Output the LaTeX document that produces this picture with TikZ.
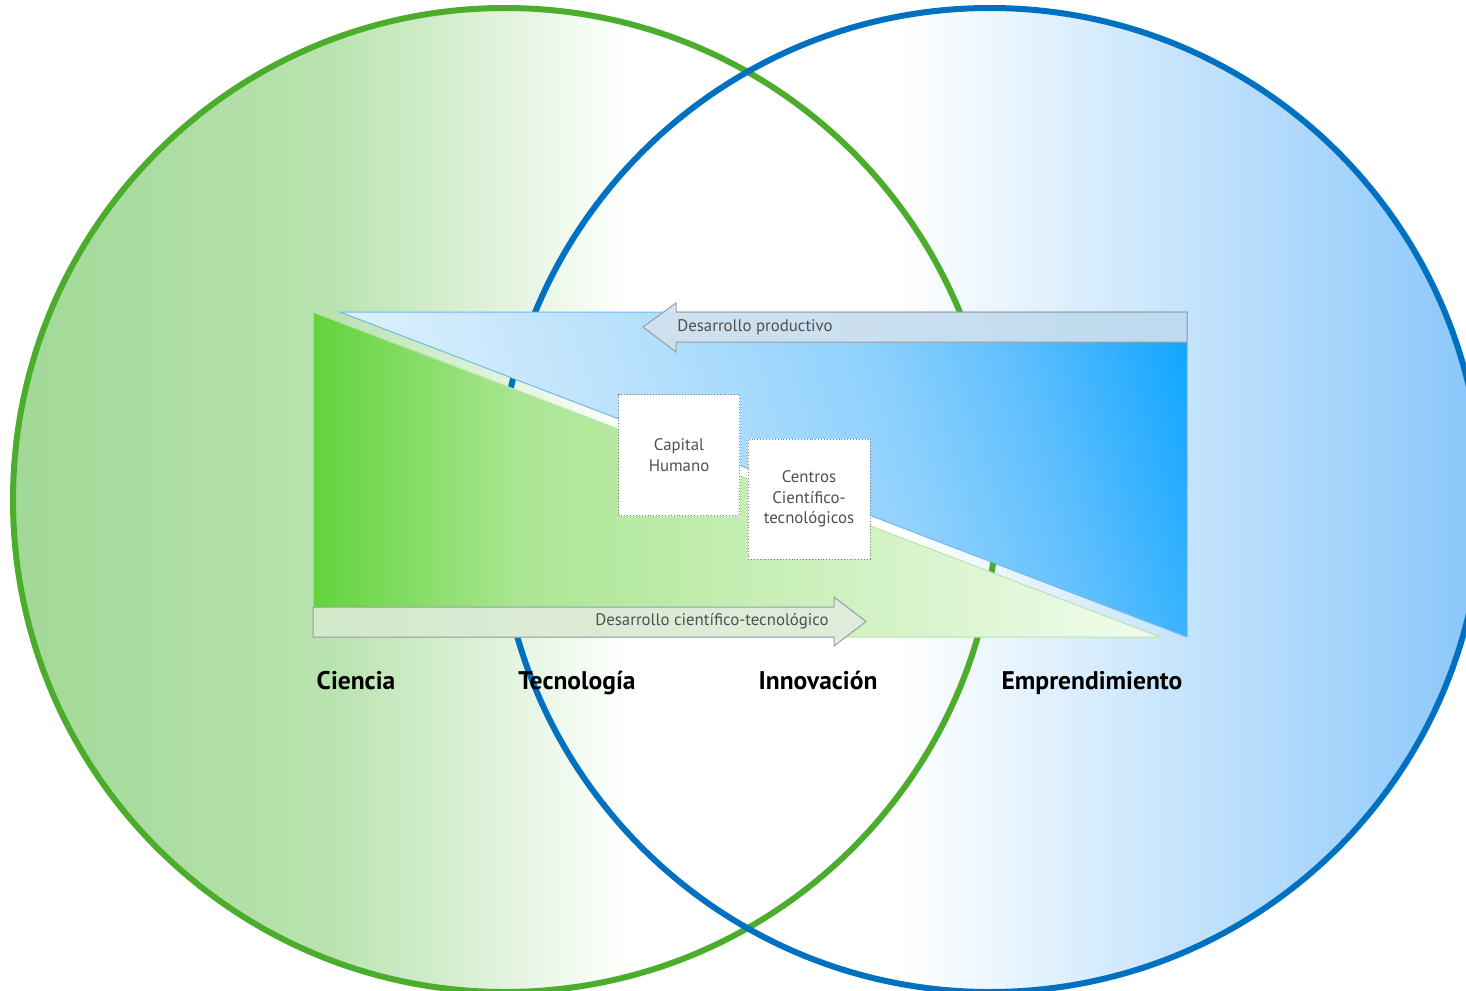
\documentclass[tikz,border=0pt]{standalone}
\usepackage{fontspec}
\setmainfont{PT Sans}
\usepackage{xcolor}
\usepackage{tikz}

\definecolor{ringgreen}{RGB}{76,172,44}
\definecolor{ringblue}{RGB}{0,113,193}
\definecolor{fillgreen}{RGB}{160,216,150}
\definecolor{fillgreenmid}{RGB}{185,227,175}
\definecolor{fillblue}{RGB}{140,200,250}
\definecolor{trigA}{RGB}{98,211,59}
\definecolor{trigB}{RGB}{171,230,147}
\definecolor{trigC}{RGB}{243,252,239}
\definecolor{trigline}{RGB}{184,228,168}
\definecolor{tribA}{RGB}{228,243,254}
\definecolor{tribB}{RGB}{185,225,252}
\definecolor{tribC}{RGB}{142,209,253}
\definecolor{tribD}{RGB}{92,190,254}
\definecolor{tribE}{RGB}{12,164,255}
\definecolor{tribline}{RGB}{114,185,234}
\definecolor{barblue}{RGB}{212,226,238}
\definecolor{bargreen}{RGB}{226,236,222}
\definecolor{bargray}{RGB}{150,158,165}
\definecolor{txtgray}{RGB}{80,80,80}

\begin{document}
\begin{tikzpicture}[x=1pt, y=-1pt,
    ring/.style={line width=6pt},
    stage/.style={anchor=base, font=\fontsize{25.5}{30}\selectfont\bfseries, text=black},
    flow/.style={font=\fontsize{16.8}{20}\selectfont, text=txtgray},
    flowbar/.style={draw=bargray, line width=1pt, fill opacity=0.88},
    actor/.style={draw=gray, dotted, line width=0.9pt, fill=white, align=center,
        inner sep=0pt, font=\fontsize{16.8}{20.5}\selectfont, text=txtgray}]
    \useasboundingbox (0,0) rectangle (1466,990);

    \def\rad{492pt}

    % circle fills
    \begin{scope}
        \clip (505,500) circle[radius=\rad];
        \shade[left color=fillgreen, right color=fillgreenmid] (0,0) rectangle (331,990);
        \shade[left color=fillgreenmid, right color=white] (330,0) rectangle (630,990);
    \end{scope}
    \begin{scope}
        \clip (990,500) circle[radius=\rad];
        \shade[left color=white, right color=fillblue] (900,0) rectangle (1466,990);
    \end{scope}

    \draw[ringgreen, ring] (505,500) circle[radius=\rad];
    \draw[ringblue, ring] (990,500) circle[radius=\rad];

    % green wedge
    \begin{scope}
        \clip (313,312) -- (1160,637) -- (313,637) -- cycle;
        \shade[left color=trigA, right color=trigB] (313,312) rectangle (521,637);
        \shade[left color=trigB, right color=trigC] (520,312) rectangle (1160,637);
    \end{scope}
    \draw[trigline, line width=1pt] (313,312) -- (1160,637) -- (313,637) -- cycle;

    % blue wedge, bands tilted 17 degrees
    \begin{scope}
        \clip (340,312) -- (1187,312) -- (1187,637) -- cycle;
        \begin{scope}[transform canvas={rotate around={17:(340,312)}}]
            \shade[left color=tribA, right color=tribB] (290,0) rectangle (601,1100);
            \shade[left color=tribB, right color=tribC] (600,0) rectangle (836,1100);
            \shade[left color=tribC, right color=tribD] (835,0) rectangle (981,1100);
            \shade[left color=tribD, right color=tribE] (980,0) rectangle (1150,1100);
            \fill[tribE] (1149,0) rectangle (1300,1100);
        \end{scope}
    \end{scope}
    \draw[tribline, line width=1pt] (340,312) -- (1187,312) -- (1187,637) -- cycle;

    % arrows
    \draw[flowbar, fill=barblue] (643,327) -- (676,303) -- (676,312) -- (1187,312)
        -- (1187,342) -- (676,342) -- (676,352) -- cycle;
    \draw[flowbar, fill=bargreen] (313,607) -- (834,607) -- (834,597) -- (866,621.5)
        -- (834,646) -- (834,637) -- (313,637) -- cycle;
    \node[flow] (prod) at (755,327) {Desarrollo productivo};
    \node[flow] (cient) at (712,621) {Desarrollo científico-tecnológico};

    % boxes
    \node[actor, minimum width=121pt, minimum height=121pt] (capital) at (679,455) {Capital\\Humano};
    \node[actor, minimum width=122pt, minimum height=120pt] (centros) at (809,499) {Centros\\Científico-\\tecnológicos};

    % stages
    \node[stage] (ciencia) at (356,689) {Ciencia};
    \node[stage] (tecno) at (577,689) {Tecnología};
    \node[stage] (innov) at (818,689) {Innovación};
    \node[stage] (empren) at (1092,689) {Emprendimiento};
\end{tikzpicture}
\end{document}
